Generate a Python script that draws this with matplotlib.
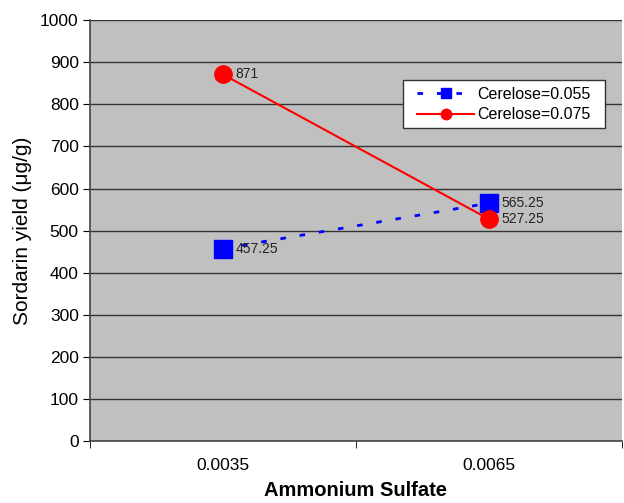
import matplotlib
matplotlib.use('Agg')
import matplotlib.pyplot as plt
from matplotlib.patches import Rectangle
import numpy as np

plt.rcParams['font.family'] = ['Liberation Sans', 'DejaVu Sans']

# 數據
categories = ['0.0035', '0.0065']
cerelose_055 = [457.25, 565.25]
cerelose_075 = [871, 527.25]
series_labels = ['Cerelose=0.055', 'Cerelose=0.075']
y_ticks = [0, 100, 200, 300, 400, 500, 600, 700, 800, 900, 1000]

fig = plt.figure(figsize=(6.24, 5.03), dpi=100)
ax = fig.add_axes([0.144, 0.123, 0.853, 0.837])
ax.set_facecolor('#c0c0c0')

x = np.arange(len(categories))

ax.plot(x, cerelose_055, color='#0000ff', linestyle=(0, (2, 5)), linewidth=2,
        marker='s', markersize=13, label=series_labels[0], zorder=3)
ax.plot(x, cerelose_075, color='#ff0000', linestyle='-', linewidth=1.5,
        marker='o', markersize=12.5, label=series_labels[1], zorder=4)

# 數據標籤
for xi, v in zip(x, cerelose_055):
    ax.annotate(f'{v:g}', (xi, v), xytext=(9, 0), textcoords='offset points',
                va='center', ha='left', fontsize=10, color='#222222', zorder=5)
for xi, v in zip(x, cerelose_075):
    ax.annotate(f'{v:g}', (xi, v), xytext=(9, 0), textcoords='offset points',
                va='center', ha='left', fontsize=10, color='#222222', zorder=5)

ax.set_xlim(-0.5, 1.5)
ax.set_ylim(0, 1000)
ax.set_yticks(y_ticks)
ax.set_xticks(x)
ax.set_xticklabels(categories)
ax.set_xticks([-0.5, 0.5, 1.5], minor=True)
ax.tick_params(axis='x', which='major', length=0, pad=12, labelsize=12.5)
ax.tick_params(axis='x', which='minor', length=5, direction='out')
ax.tick_params(axis='y', length=5, direction='out', labelsize=12.5, pad=3)

ax.yaxis.grid(True, color='#333333', linewidth=1)
ax.set_axisbelow(True)

for side in ['top', 'right']:
    ax.spines[side].set_visible(False)
for side in ['left', 'bottom']:
    ax.spines[side].set_color('#444444')
    ax.spines[side].set_linewidth(1.2)

ax.set_ylabel('Sordarin yield (\u03bcg/g)', fontsize=15, labelpad=6)
ax.set_xlabel('Ammonium Sulfate', fontsize=14.5, fontweight='bold', labelpad=6)

# 圖例框
ax.add_patch(Rectangle((0.588, 0.743), 0.380, 0.114, transform=ax.transAxes,
                       facecolor='white', edgecolor='#333333', linewidth=1,
                       zorder=6))
leg = ax.legend(loc='center', bbox_to_anchor=(0.778, 0.800), frameon=False,
                fontsize=11.5, handlelength=3.6, markerscale=0.6,
                borderpad=0.2, labelspacing=0.35, handletextpad=0.2)
leg.set_zorder(7)

plt.savefig('out.png', dpi=100)
